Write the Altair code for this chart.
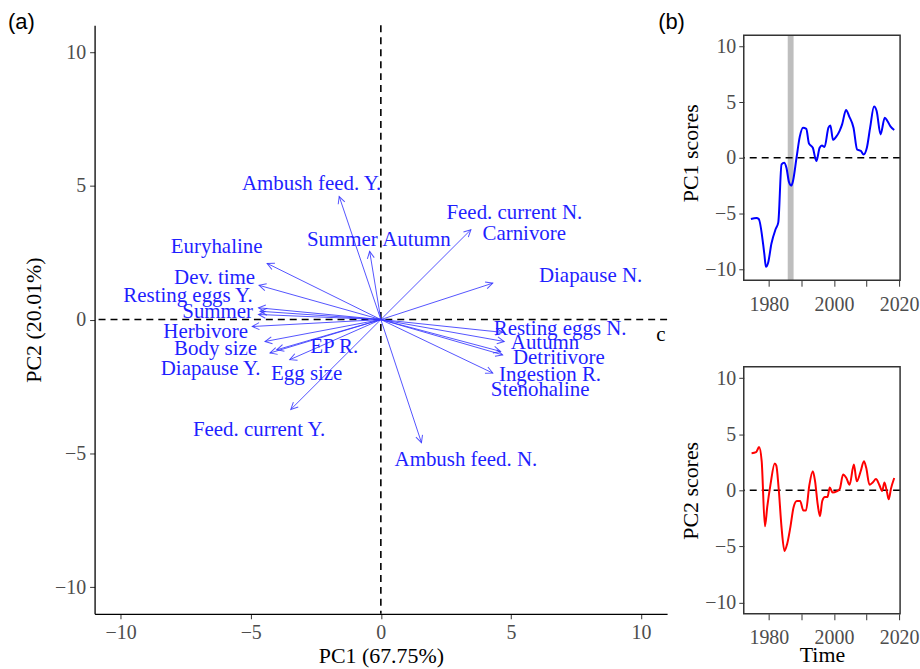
import altair as alt
import pandas as pd

SERIF = "Liberation Serif"
SANS = "Liberation Sans"

# ---------------- Panel (a): PCA biplot ----------------
arrow_x = [-1.6, -0.43, -4.37, -4.68, -4.7, -4.64, -4.7, -4.94, -4.45, -4.26, -4.0, -3.5, -3.46,
           1.56, 3.46, 4.3, 4.68, 4.74, 4.6, 4.68, 4.3]
arrow_y = [4.6, 2.55, 2.1, 1.28, 0.44, 0.31, 0.19, -0.26, -0.82, -1.25, -1.13, -1.5, -3.36,
           -4.6, 3.36, 1.36, -0.48, -0.82, -1.19, -1.32, -2.0]

label_text = ["Ambush feed. Y.", "Summer", "Autumn", "Feed. current N.", "Carnivore",
              "Euryhaline", "Diapause N.", "Dev. time", "Resting eggs Y.", "Summer",
              "Herbivore", "Body size", "EP R.", "Diapause Y.", "Egg size",
              "Feed. current Y.", "Ambush feed. N.", "Resting eggs N.", "Autumn",
              "Detritivore", "Ingestion R.", "Stenohaline"]
label_x = [-2.66, -1.48, 1.37, 5.13, 5.51, -6.31, 8.06, -6.39, -7.41, -6.27,
           -6.73, -6.35, -1.79, -6.54, -2.85, -4.68, 3.27, 6.89, 6.31,
           6.84, 6.50, 6.12]
label_y = [5.08, 2.98, 2.98, 3.99, 3.20, 2.71, 1.62, 1.54, 0.87, 0.30,
           -0.45, -1.09, -1.02, -1.85, -2.03, -4.14, -5.27, -0.34, -0.87,
           -1.43, -2.07, -2.64]

stray_text = ["c"]
stray_x = [10.76]
stray_y = [-0.56]

pc_ticks = [-10, -5, 0, 5, 10]
pc_range = [-11, 11]

# ---------------- Panel (b): score time series ----------------
pc1_year = [1974.5, 1976.2, 1976.9, 1978.6, 1979.1, 1979.8, 1980.8, 1982.1, 1982.9, 1983.9,
            1984.7, 1985.4, 1986.2, 1986.9, 1987.4, 1988.5, 1989.5, 1990.5, 1991.5, 1992.3,
            1993.5, 1994.6, 1995.6, 1996.3, 1997.1, 1998.3, 1998.9, 1999.7, 2000.7, 2001.7,
            2002.5, 2003.7, 2004.7, 2006.0, 2007.1, 2008.3, 2009.1, 2010.1, 2011.1, 2012.3,
            2013.1, 2014.3, 2015.6, 2016.4, 2017.4, 2018.5]
pc1_score = [-5.5, -5.4, -5.5, -8.6, -9.8, -9.4, -7.7, -6.4, -5.8, -0.6,
             -0.45, -0.9, -2.2, -2.5, -2.1, 0.0, 1.9, 2.7, 2.6, 1.3,
             0.9, -0.3, 0.9, 1.1, 0.96, 2.7, 2.9, 1.6, 1.9, 2.4,
             3.0, 4.3, 3.7, 2.7, 0.75, 0.6, 0.3, 0.9, 2.7, 4.6,
             4.2, 2.1, 3.6, 3.3, 2.8, 2.5]

pc2_year = [1974.7, 1976.1, 1977.0, 1977.8, 1978.8, 1979.5, 1980.5, 1981.8, 1982.3, 1983.0,
            1983.9, 1984.8, 1985.6, 1986.6, 1987.6, 1988.6, 1989.6, 1990.6, 1991.4, 1992.4,
            1993.5, 1994.2, 1995.0, 1995.7, 1996.4, 1997.2, 1998.0, 1998.7, 1999.6, 2000.8,
            2001.8, 2002.8, 2003.8, 2004.8, 2006.1, 2007.0, 2008.2, 2009.2, 2009.9, 2010.9,
            2011.9, 2012.9, 2013.9, 2014.8, 2015.5, 2016.3, 2016.8, 2017.5, 2018.5]
pc2_score = [3.3, 3.4, 3.85, 2.6, -3.2, -1.5, 0.5, 2.4, 2.2, 0.23,
             -3.3, -5.4, -4.8, -3.3, -1.5, -0.95, -0.95, -1.8, -1.8, 0.4,
             1.7, 0.8, -1.25, -2.3, -0.95, -0.6, -0.6, 0.25, -0.2, -0.1,
             0.15, 1.4, 1.1, 0.5, 2.3, 0.8, 1.7, 2.6, 2.0, 0.5,
             0.7, 1.0, 0.5, -0.05, 0.7, -0.2, -0.8, 0.15, 1.1]

band_start = [1985.8]
band_end = [1987.6]
year_ticks = [1980, 1990, 2000, 2010, 2020]
year_range = [1972.3, 2020.3]

# ---------------- build panel (a) ----------------
arrows = pd.DataFrame({"x": arrow_x, "y": arrow_y})
labels = pd.DataFrame({"text": label_text, "x": label_x, "y": label_y})
stray = pd.DataFrame({"text": stray_text, "x": stray_x, "y": stray_y})

xs_a = alt.Scale(domain=pc_range, nice=False, zero=False)
ys_a = alt.Scale(domain=pc_range, nice=False, zero=False)
xaxis_a = alt.Axis(values=pc_ticks, title="PC1 (67.75%)", tickSize=5, labelPadding=4,
                   titlePadding=3, domainColor="black", domainWidth=1.3, tickColor="#333333",
                   labelFlush=False)
yaxis_a = alt.Axis(values=pc_ticks, title="PC2 (20.01%)", tickSize=5, labelPadding=4,
                   titlePadding=9, domainColor="black", domainWidth=1.3, tickColor="#333333",
                   labelFlush=False)


def XA(field="x"):
    return alt.X(f"{field}:Q", scale=xs_a, axis=xaxis_a)


def YA(field="y"):
    return alt.Y(f"{field}:Q", scale=ys_a, axis=yaxis_a)


one = alt.Data(values=[{"v": 0}])

vline = alt.Chart(one).mark_rule(color="black", strokeDash=[7, 5], strokeWidth=1.6).encode(
    x=alt.X("v:Q", scale=xs_a, axis=xaxis_a))
hline = alt.Chart(one).mark_rule(color="black", strokeDash=[7, 5], strokeWidth=1.6).encode(
    y=alt.Y("v:Q", scale=ys_a, axis=yaxis_a))

ARROW_COLOR = "#3535ff"
shafts = alt.Chart(arrows).transform_calculate(x0="0", y0="0").mark_rule(
    color=ARROW_COLOR, strokeWidth=1, opacity=0.85).encode(
    x=XA(), y=YA(), x2="x0:Q", y2="y0:Q")

heads = alt.Chart(arrows).transform_calculate(
    ang="(atan2(-datum.y, datum.x) * 180 / PI + 360) % 360").mark_point(
    shape="M-1,-0.5L0,0L-1,0.5", filled=False, size=196, strokeWidth=1,
    color=ARROW_COLOR, opacity=0.85).encode(
    x=XA(), y=YA(), angle=alt.Angle("ang:Q", scale=None))

texts = alt.Chart(labels).mark_text(font=SERIF, fontSize=21, color="#1f1fff",
                                    align="center", baseline="middle").encode(
    x=XA(), y=YA(), text="text:N")

stray_layer = alt.Chart(stray).mark_text(font=SERIF, fontSize=21, color="black",
                                         align="center", baseline="middle").encode(
    x=XA(), y=YA(), text="text:N")

panel_a = alt.layer(vline, hline, shafts, heads, texts, stray_layer).properties(
    width=575, height=591,
    view=alt.ViewBackground(stroke=None),
    title=alt.TitleParams("(a)", anchor="start", frame="group", dx=-87, offset=-19,
                          baseline="middle", fontSize=22, font=SANS, fontWeight="normal",
                          color="black"))

# ---------------- build panel (b) ----------------
# (b1's plot area carries an empty strip above its frame so that its frame starts lower
#  than panel (a)'s top, as in the original figure.)
PX_PER_UNIT = 246 / (pc_range[1] - pc_range[0])
TOP_STRIP = 10
xs_b = alt.Scale(domain=year_range, nice=False, zero=False)


def b_panel(years, scores, color, ytitle, xtitle, title):
    df = pd.DataFrame({"year": years, "score": scores})
    if title is not None:
        y_dom = [pc_range[0], pc_range[1] + TOP_STRIP / PX_PER_UNIT]
        height = 246 + TOP_STRIP
    else:
        y_dom = pc_range
        height = 248
    ys_b = alt.Scale(domain=y_dom, nice=False, zero=False)
    xaxis = alt.Axis(values=year_ticks, format="d", title=xtitle, domain=False,
                     tickSize=6, labelPadding=8, titlePadding=-3, tickColor="#333333",
                     labelFlush=False,
                     labelExpr="datum.value % 20 == 0 ? datum.label : ''")
    yaxis = alt.Axis(values=pc_ticks, title=ytitle, domain=False, tickSize=5,
                     labelPadding=3, titlePadding=2, tickColor="#333333", labelFlush=False)
    X = lambda f: alt.X(f, scale=xs_b, axis=xaxis)
    Y = lambda f: alt.Y(f, scale=ys_b, axis=yaxis)

    frame_df = pd.DataFrame({"x1": [year_range[0]], "x2": [year_range[1]],
                             "y1": [pc_range[0]], "y2": [pc_range[1]]})
    frame = alt.Chart(frame_df).mark_rect(filled=False, stroke="#333333",
                                          strokeWidth=1.5).encode(
        x=X("x1:Q"), x2="x2:Q", y=Y("y1:Q"), y2="y2:Q")
    band = alt.Chart(pd.DataFrame({"s": band_start, "e": band_end,
                                   "y1": [pc_range[0]], "y2": [pc_range[1]]})).mark_rect(
        color="#bebebe").encode(x=X("s:Q"), x2="e:Q", y=Y("y1:Q"), y2="y2:Q")
    zero = alt.Chart(one).mark_rule(color="black", strokeDash=[7, 5], strokeWidth=1.6).encode(
        y=Y("v:Q"))
    line = alt.Chart(df).mark_line(color=color, strokeWidth=2, interpolate="monotone").encode(
        x=X("year:Q"), y=Y("score:Q"))
    layers = [zero, line, frame]
    if title is not None:
        layers = [band] + layers
    props = dict(width=157, height=height, view=alt.ViewBackground(stroke=None))
    if title is not None:
        props["title"] = alt.TitleParams(title, anchor="start", frame="group", dx=-86,
                                         offset=-19, baseline="middle", fontSize=22,
                                         font=SANS, fontWeight="normal", color="black")
    return alt.layer(*layers).properties(**props)


b1 = b_panel(pc1_year, pc1_score, "blue", "PC1 scores", None, "(b)")
b2 = b_panel(pc2_year, pc2_score, "red", "PC2 scores", "Time", None)

panel_b = alt.vconcat(b1, b2, spacing=52)

chart = alt.concat(panel_a, panel_b, columns=2, align="none", spacing=-10).properties(
    padding={"left": 8, "top": 9, "right": 0, "bottom": 0}
).configure_axis(
    labelFont=SERIF, titleFont=SERIF, labelFontSize=20, titleFontSize=22,
    titleFontWeight="normal", labelColor="#4d4d4d", titleColor="black", grid=False
)

chart.save("out.html", embed_options={"renderer": "svg", "actions": False})
